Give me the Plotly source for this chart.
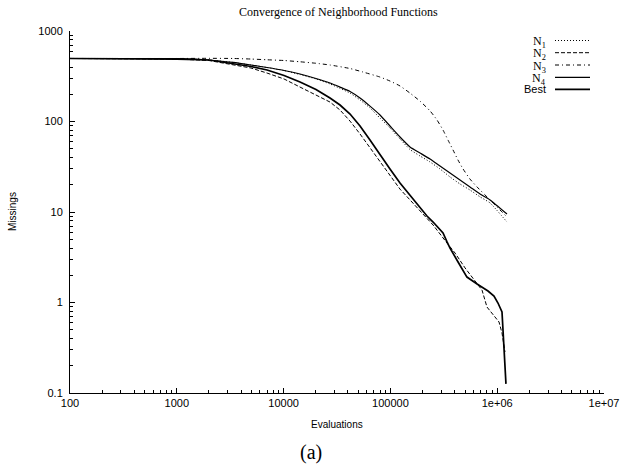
import plotly.graph_objects as go

# Evaluations (x) and remaining missings (y) for each neighborhood function
n1_evals = [100, 1000, 2000, 3360, 4950, 7000, 10100, 14250, 20100, 27200,
            33750, 41900, 51950, 64400, 79900, 99100, 123000, 152600, 189300,
            235000, 291300, 361500, 448500, 556400, 690200, 856400, 1235000]
n1_miss = [497, 494, 478, 449, 421, 395, 366, 331, 295, 260,
           232, 206, 173, 141, 109, 84.8, 64.1, 49.0, 41.6,
           35.7, 29.9, 24.4, 20.4, 17.5, 14.7, 12.6, 7.75]

n2_evals = [100, 1000, 2000, 3360, 4950, 7000, 10100, 14250, 20100, 27200,
            33750, 41900, 51950, 64400, 79900, 99100, 123000, 152600, 189300,
            251000, 339000, 403000, 500000, 648000, 721000, 802000, 914000,
            1040000, 1109000, 1183000]
n2_miss = [497, 490, 472, 426, 390, 343, 295, 240, 196, 164,
           134, 101, 72.8, 51.0, 35.7, 25.0, 17.9, 13.6, 10.3,
           7.18, 4.54, 3.52, 2.41, 1.60, 1.37, 0.891, 0.728,
           0.609, 0.460, 0.284]

n3_evals = [100, 1000, 2000, 3360, 4950, 7000, 10100, 14250, 20100, 27200,
            41900, 55400, 79900, 99100, 123000, 152600, 189300, 235000,
            273000, 311000, 346000, 386000, 429500, 479000, 556400, 648000,
            856400, 1235000]
n3_miss = [497, 497, 499, 497, 490, 481, 472, 457, 440, 421,
           385, 352, 310, 280, 247, 206, 168, 131,
           104, 80.5, 62.5, 48.4, 37.5, 29.9, 23.1, 18.9,
           13.6, 8.8]

n4_evals = [100, 1000, 2000, 3360, 4950, 7000, 10100, 14250, 20100, 27200,
            33750, 41900, 51950, 64400, 79900, 99100, 123000, 152600, 189300,
            235000, 291300, 361500, 448500, 556400, 690200, 856400, 1235000]
n4_miss = [497, 494, 478, 449, 421, 395, 366, 335, 299, 266,
           240, 215, 182, 148, 118, 89.2, 67.4, 52.3, 44.9,
           38.5, 32.2, 27.0, 22.6, 18.9, 15.8, 13.6, 9.5]

best_evals = [100, 1000, 2000, 3360, 4950, 7000, 10100, 14250, 20100, 27200,
              33750, 41900, 51950, 64400, 79900, 99100, 123000, 152600, 189300,
              220000, 251000, 311000, 339000, 361500, 430000, 521000, 648000,
              820000, 933000, 1017000, 1109000, 1158000, 1208000]
best_miss = [497, 490, 478, 437, 405, 371, 322, 273, 226, 182,
             152, 121, 89.2, 62.5, 42.6, 29.9, 20.9, 15.4, 11.4,
             9.03, 7.75, 5.86, 4.67, 4.0, 2.80, 1.91, 1.60,
             1.34, 1.18, 0.987, 0.785, 0.339, 0.126]

series_names = ["N<sub>1</sub>", "N<sub>2</sub>", "N<sub>3</sub>", "N<sub>4</sub>", "Best"]

x_tick_vals = [100, 1000, 10000, 100000, 1000000, 10000000]
x_tick_text = ["100", "1000", "10000", "100000", "1e+06", "1e+07"]
y_tick_vals = [0.1, 1, 10, 100, 1000]
y_tick_text = ["0.1", "1", "10", "100", "1000"]

W, H = 622, 467
L, R, T, B = 70, 604, 31, 393  # plot area edges in pixels


def px(x):
    return (x - L) / (R - L)


def py(y):
    return (B - y) / (B - T)


styles = [
    dict(dash="1px,2px", width=1.0, shape="spline"),
    dict(dash="4px,2px", width=1.0, shape="linear"),
    dict(dash="4px,3px,1px,3px", width=1.0, shape="spline"),
    dict(dash="solid", width=1.2, shape="spline"),
    dict(dash="solid", width=1.7, shape="linear"),
]

data = [(n1_evals, n1_miss), (n2_evals, n2_miss), (n3_evals, n3_miss),
        (n4_evals, n4_miss), (best_evals, best_miss)]

fig = go.Figure()
for (xs, ys), st, name in zip(data, styles, series_names):
    line = dict(color="black", width=st["width"], dash=st["dash"], shape=st["shape"])
    if st["shape"] == "spline":
        line["smoothing"] = 0.5
    fig.add_trace(go.Scatter(x=xs, y=ys, mode="lines", name=name,
                             showlegend=False, line=line))

x_minor = [k * 10 ** e for e in range(2, 7) for k in range(2, 10)]
y_minor = [k * 10.0 ** e for e in range(-1, 3) for k in range(2, 10)]

axis_common = dict(
    type="log", showgrid=False, zeroline=False, showline=True, automargin=False,
    linecolor="black", linewidth=1, mirror=False,
    ticks="inside", ticklen=5, tickwidth=1, tickcolor="black",
    tickmode="array",
    tickfont=dict(family="Liberation Sans, Arial, sans-serif", size=11, color="black"),
)

fig.update_layout(
    width=W, height=H,
    margin=dict(l=L, r=W - R, t=T, b=H - B, pad=0),
    paper_bgcolor="white", plot_bgcolor="white",
    xaxis=dict(axis_common, range=[2, 7], tickvals=x_tick_vals, ticktext=x_tick_text,
               minor=dict(ticks="inside", ticklen=3, tickcolor="black", tickwidth=1,
                          tickmode="array", tickvals=x_minor, showgrid=False)),
    yaxis=dict(axis_common, range=[-1, 3], tickvals=y_tick_vals, ticktext=y_tick_text,
               ticklabelstandoff=4,
               minor=dict(ticks="inside", ticklen=3, tickcolor="black", tickwidth=1,
                          tickmode="array", tickvals=y_minor, showgrid=False)),
    showlegend=False,
)

annotations = [
    dict(text="Convergence of Neighborhood Functions", x=px(338), y=py(12),
         font=dict(family="Liberation Serif, Times New Roman, serif", size=12)),
    dict(text="Evaluations", x=px(337), y=py(424),
         font=dict(family="Liberation Sans, Arial, sans-serif", size=10)),
    dict(text="Missings", x=px(12), y=py(212), textangle=-90,
         font=dict(family="Liberation Sans, Arial, sans-serif", size=10)),
    dict(text="(a)", x=px(311), y=py(452),
         font=dict(family="Liberation Serif, Times New Roman, serif", size=20)),
]
for a in annotations:
    a.update(xref="paper", yref="paper", showarrow=False, xanchor="center",
             yanchor="middle")
    a["font"]["color"] = "black"

# Legend: right-aligned labels with line samples to their right
legend_rows = [40.5, 52.7, 65.0, 77.3, 89.3]
shapes = []
for name, st, ry in zip(series_names, styles, legend_rows):
    is_best = name == "Best"
    annotations.append(dict(
        text=name, x=px(548), y=py(ry + (0 if is_best else 1.5)), xref="paper", yref="paper",
        showarrow=False, xanchor="right", yanchor="middle",
        font=dict(family=("Liberation Sans, Arial, sans-serif" if is_best
                          else "Liberation Serif, Times New Roman, serif"),
                  size=11 if is_best else 12, color="black"),
    ))
    shapes.append(dict(
        type="line", xref="paper", yref="paper",
        x0=px(555), x1=px(590), y0=py(ry), y1=py(ry),
        line=dict(color="black", width=st["width"], dash=st["dash"]),
    ))

fig.update_layout(annotations=annotations, shapes=shapes)

fig.write_html("out.html")
